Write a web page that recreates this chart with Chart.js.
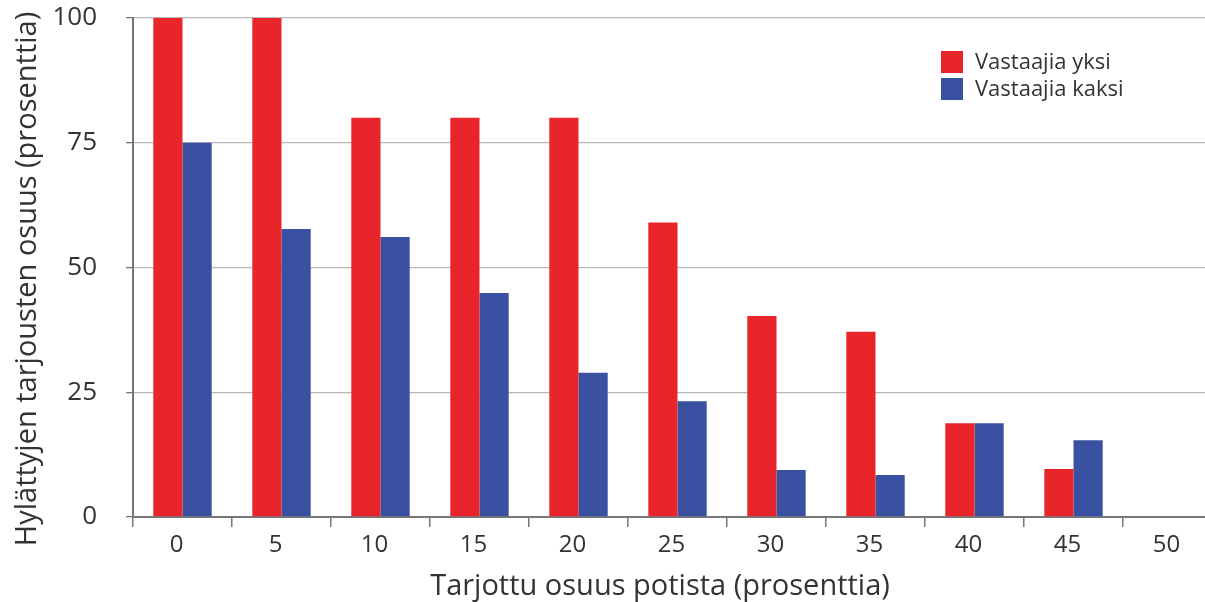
<!DOCTYPE html>
<html>
<head>
<meta charset="utf-8">
<script src="https://cdn.jsdelivr.net/npm/chart.js@4/dist/chart.umd.min.js"></script>
<style>
  html, body { margin: 0; padding: 0; background: #fff; overflow: hidden; }
  #wrap { width: 1222px; height: 602px; }
</style>
</head>
<body>
<div id="wrap"><canvas id="c" width="1222" height="602"></canvas></div>
<script>
// Offered share of the pot (percent)
const offers = ['0', '5', '10', '15', '20', '25', '30', '35', '40', '45', '50'];
// Share of offers rejected (percent), one responder
const rejectOne = [100, 100, 80, 80, 80, 59, 40.3, 37.1, 18.8, 9.6, 0];
// Share of offers rejected (percent), two responders
const rejectTwo = [75, 57.7, 56.1, 44.9, 28.9, 23.2, 9.4, 8.4, 18.8, 15.4, 0];
const seriesNames = ['Vastaajia yksi', 'Vastaajia kaksi'];
const yTicks = [0, 25, 50, 75, 100];
const xTitle = 'Tarjottu osuus potista (prosenttia)';
const yTitle = 'Hylättyjen tarjousten osuus (prosenttia)';

const RED = '#e8252b';
const BLUE = '#3a51a2';
const FONT = '"Open Sans", "DejaVu Sans", sans-serif';
const TEXT = '#333333';

// Legend inside the plot (top right) and both axis titles
const annotations = {
  id: 'annotations',
  afterDraw(chart) {
    const ctx = chart.ctx;
    ctx.save();
    ctx.font = '22px ' + FONT;
    ctx.textBaseline = 'middle';
    chart.data.datasets.forEach((ds, i) => {
      const y = 51 + i * 27;
      ctx.fillStyle = ds.backgroundColor;
      ctx.fillRect(941, y, 22, 22);
      ctx.fillStyle = TEXT;
      ctx.fillText(ds.label, 975, y + 12);
    });

    ctx.font = '29px ' + FONT;
    ctx.textAlign = 'center';
    ctx.fillStyle = TEXT;
    ctx.textBaseline = 'alphabetic';
    ctx.fillText(xTitle, 660, 595);

    ctx.textBaseline = 'middle';
    ctx.translate(28, 279);
    ctx.rotate(-Math.PI / 2);
    ctx.fillText(yTitle, 0, 0);
    ctx.restore();
  }
};

new Chart(document.getElementById('c'), {
  type: 'bar',
  data: {
    labels: offers,
    datasets: [
      { label: seriesNames[0], data: rejectOne, backgroundColor: RED },
      { label: seriesNames[1], data: rejectTwo, backgroundColor: BLUE }
    ]
  },
  options: {
    responsive: false,
    animation: false,
    events: [],
    layout: { padding: { top: 18, right: 0, left: 0, bottom: 0 } },
    categoryPercentage: 0.59,
    barPercentage: 1.0,
    plugins: { legend: { display: false }, tooltip: { enabled: false } },
    scales: {
      x: {
        grid: {
          offset: true,
          drawOnChartArea: false,
          drawTicks: true,
          tickLength: 10,
          color: '#777777',
          lineWidth: 1.5
        },
        border: { color: '#777777', width: 2 },
        ticks: {
          color: TEXT,
          font: { family: FONT, size: 24 },
          padding: 4,
          labelOffset: -6,
          maxRotation: 0
        },
        afterFit(s) { s.height = 85; }
      },
      y: {
        min: 0,
        max: 100,
        afterBuildTicks(s) { s.ticks = yTicks.map(v => ({ value: v })); },
        grid: {
          color: '#b8b8b8',
          lineWidth: 1.3,
          tickLength: 7,
          tickColor: '#777777'
        },
        border: { color: '#777777', width: 2 },
        ticks: {
          color: TEXT,
          font: { family: FONT, size: 26 },
          padding: 29
        },
        afterFit(s) {
          s.width = 133;
          s.paddingTop = 0;
          s.paddingBottom = 0;
        }
      }
    }
  },
  plugins: [annotations]
});
</script>
</body>
</html>
